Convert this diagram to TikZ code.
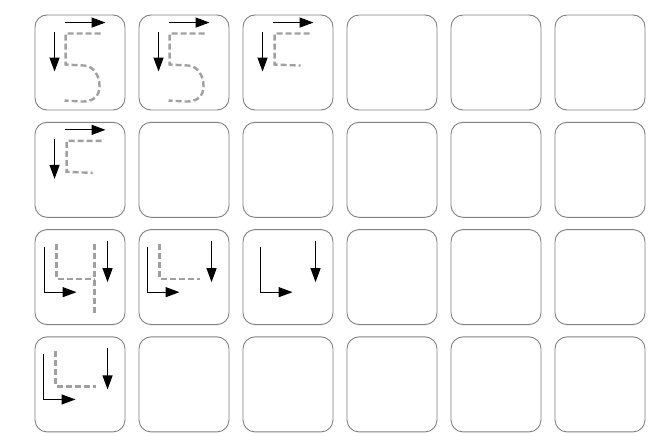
\documentclass[tikz,border=0pt]{standalone}
\usepackage{tikz}
\usetikzlibrary{arrows.meta}
\definecolor{cellgray}{RGB}{128,128,128}
\definecolor{tracegray}{RGB}{160,160,160}
\tikzset{
  cellbox/.style={draw=cellgray,line width=0.9pt,rounded corners=12pt,
                  minimum width=90pt,minimum height=95pt,inner sep=0pt},
  guide/.style={draw=black,line width=1.2pt,-{Triangle[length=14pt,width=10pt]}},
  trace/.style={draw=tracegray,line width=2.4pt,dash pattern=on 6pt off 3pt},
}
% stroke guides, in the local frame of one cell (origin at its top left)
\newcommand{\topguides}{%
  \draw[guide] (30,8) -- (71,8);
  \draw[guide] (20,17) -- (20,57);}
\newcommand{\cornerguides}[1]{%
  \draw[guide] (#1,18) -- (#1,63) -- (#1+32,63);
  \draw[guide] (73,12) -- (73,53);}

\begin{document}
\begin{tikzpicture}[x=1pt,y=-1pt]
  \useasboundingbox (0,0) rectangle (653,436);
  \foreach \r in {1,...,4}
    \foreach \c in {1,...,6}
      \node[cellbox] (c\r\c) at ({80+104*(\c-1)},{62.5+107.3*(\r-1)}) {};

  % five, full
  \foreach \cell in {c11,c12}{
    \begin{scope}[shift={(\cell.north west)}]
      \topguides
      \draw[trace] (66,19) -- (31,19) -- (31,50) -- (50,51)
        .. controls (60,52) and (65,62) .. (65,72)
        .. controls (65,82) and (58,87) .. (48,87) -- (30,86);
    \end{scope}}
  % five, top part only
  \foreach \cell in {c13,c21}{
    \begin{scope}[shift={(\cell.north west)}]
      \topguides
      \draw[trace] (67,19) -- (32,19) -- (32,50) -- (58,51);
    \end{scope}}

  % four
  \begin{scope}[shift={(c31.north west)}]
    \cornerguides{10}
    \draw[trace] (22,15) -- (22,50) -- (60,50);
    \draw[trace] (60,15) -- (60,86);
  \end{scope}
  \foreach \cell in {c32,c41}{
    \begin{scope}[shift={(\cell.north west)}]
      \cornerguides{9}
      \draw[trace] (21,15) -- (21,50) -- (61,50);
    \end{scope}}
  \begin{scope}[shift={(c33.north west)}]
    \cornerguides{18}
  \end{scope}
\end{tikzpicture}
\end{document}
